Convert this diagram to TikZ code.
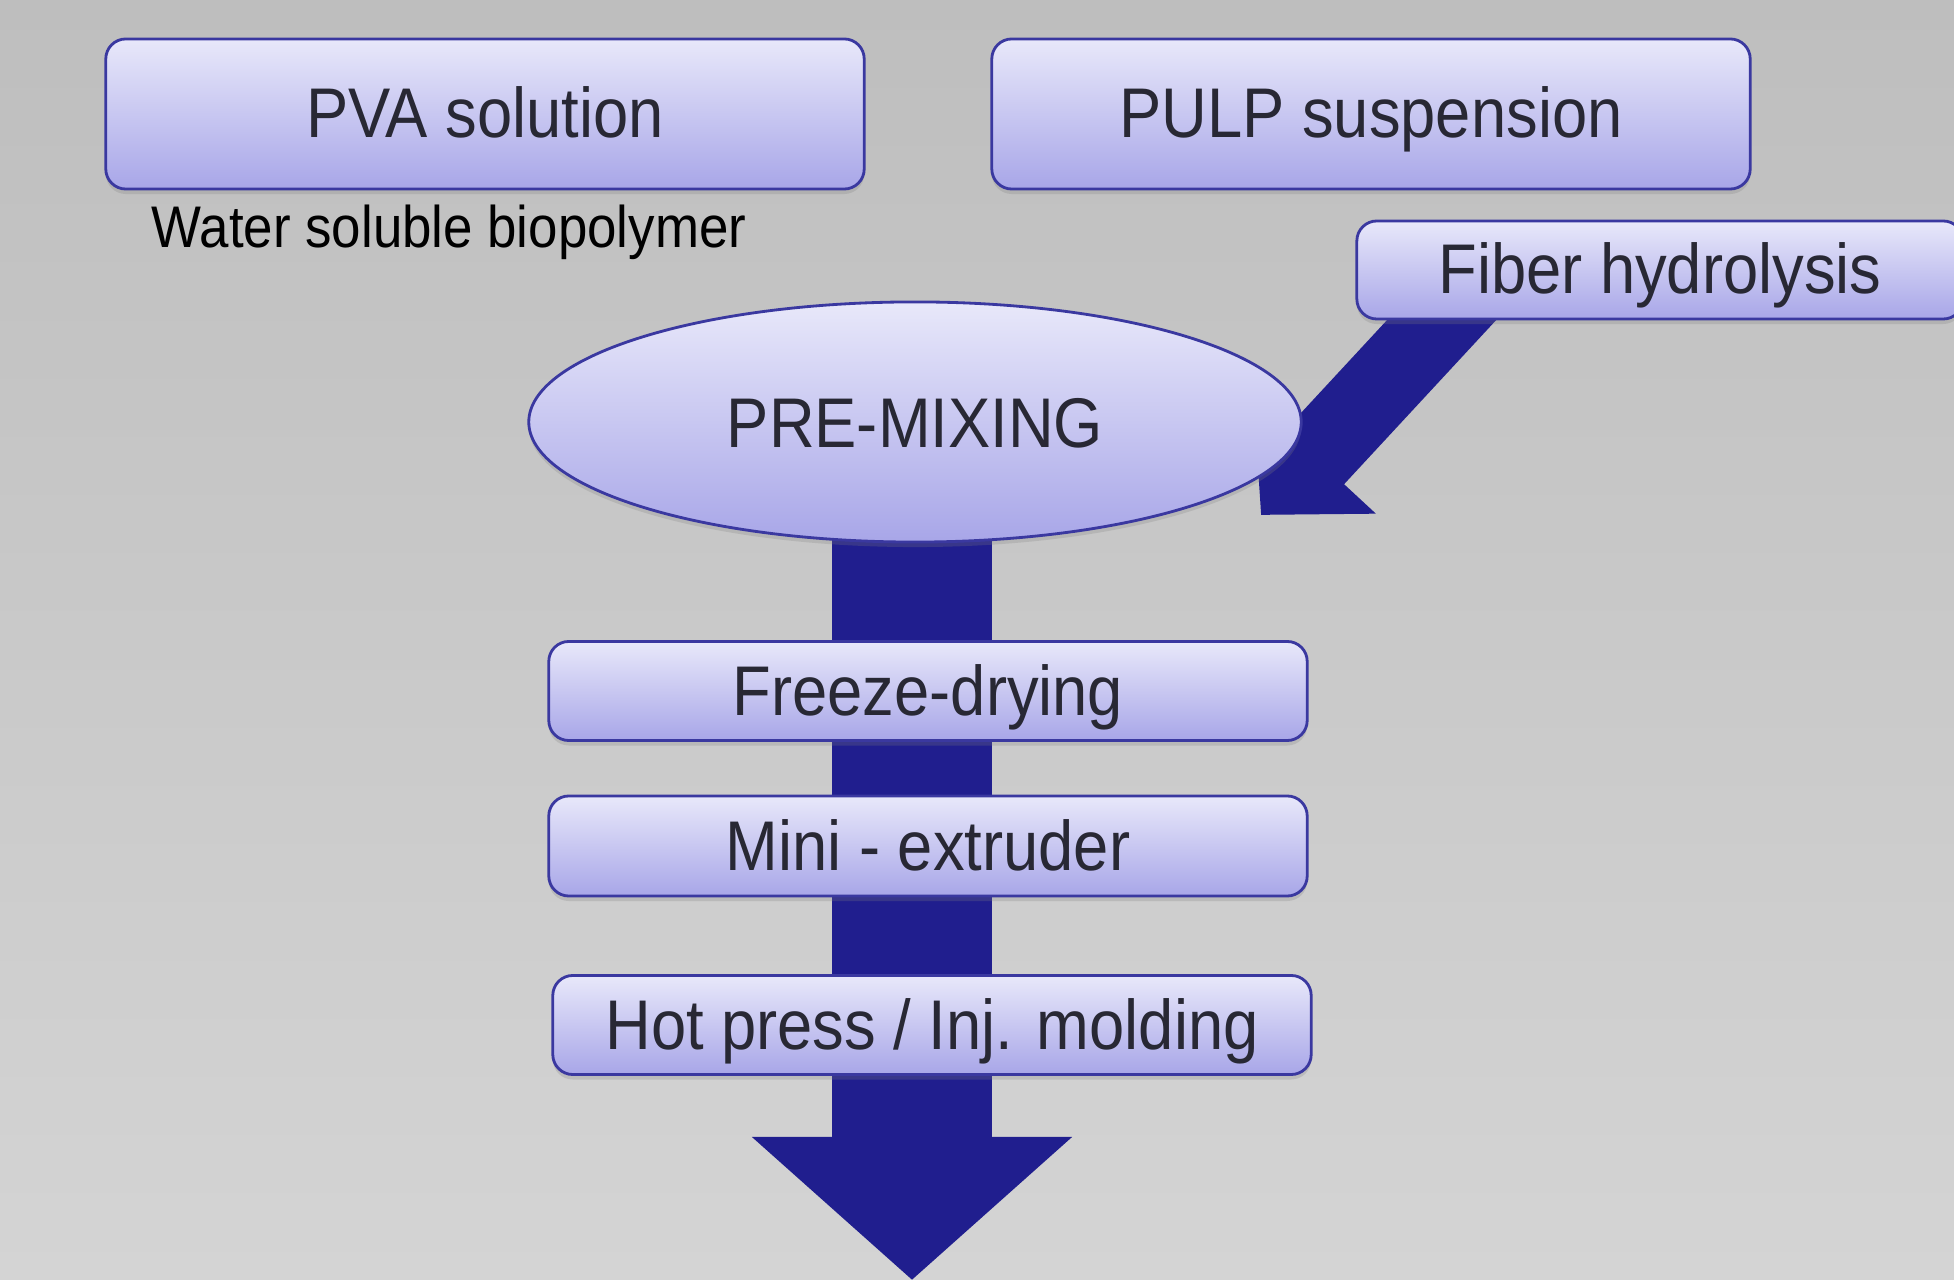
\documentclass[tikz,border=0pt]{standalone}
\usepackage{fontspec}
\setmainfont{Liberation Sans}[FakeStretch=0.9]
\usepackage{tikz}
\usetikzlibrary{positioning}
\usetikzlibrary{shapes.geometric, arrows.meta, shadows, backgrounds}
\definecolor{boxtop}{RGB}{232,232,250}
\definecolor{boxbottom}{RGB}{168,166,232}
\definecolor{boxedge}{RGB}{58,56,160}
\definecolor{flowblue}{RGB}{32,30,142}
\definecolor{labelgray}{RGB}{40,40,52}
\definecolor{bgtop}{RGB}{190,190,190}
\definecolor{bgbottom}{RGB}{212,212,212}
\tikzstyle{stage} = [rectangle, rounded corners=0.2cm, minimum width=7.58cm, inner sep=0pt, text height=0.5cm, text depth=0.02cm, draw=boxedge, line width=0.8pt, top color=boxtop, bottom color=boxbottom, text=labelgray, font=\fontsize{20}{24}\selectfont, drop shadow={shadow xshift=0pt, shadow yshift=-0.05cm, opacity=0.25}]
\tikzstyle{mixer} = [ellipse, minimum width=7.72cm, minimum height=2.4cm, inner sep=0pt, text height=0.5cm, text depth=0cm, draw=boxedge, line width=0.8pt, top color=boxtop, bottom color=boxbottom, text=labelgray, font=\fontsize{20}{24}\selectfont, drop shadow={shadow xshift=0pt, shadow yshift=-0.05cm, opacity=0.25}]
\tikzstyle{flow} = [draw=flowblue, line cap=butt]

\begin{document}
\begin{tikzpicture}[x=0.01cm, y=-0.01cm]
\useasboundingbox (0,0) rectangle (1954,1280);
\clip (0,0) rectangle (1954,1280);
% inputs
\node (pva) at (485,114) [stage, minimum height=1.5cm] {PVA solution};
\node (pulp) at (1371,114) [stage, minimum height=1.5cm] {PULP suspension};
\node (pvanote) at (449,232) [font=\fontsize{16.7}{20}\selectfont] {Water soluble biopolymer};
\node (fiber) at (1660,270) [stage, minimum width=6.06cm, minimum height=0.98cm] {Fiber hydrolysis};
% process chain
\node (mix) at (915,422) [mixer] {PRE-MIXING};
\node (freeze) at (928,691) [stage, minimum height=0.99cm] {Freeze-drying};
\node (extruder) at (928,846) [stage, minimum height=1cm] {Mini - extruder};
\node (press) at (932,1025) [stage, minimum height=0.99cm] {Hot press / Inj. molding};
\coordinate (fibstart) at (1488,270);
\coordinate (fibtip) at (1261,515);
\coordinate (endtip) at (912,1280);
\begin{pgfonlayer}{background}
\fill[top color=bgtop, bottom color=bgbottom] (0,0) rectangle (1954,1280);
\draw[flow, line width=0.8cm, -{Triangle[length=0.79cm, width=1.62cm]}] (fibstart) -- (fibtip);
\draw[flow, line width=1.59cm, -{Triangle[length=1.43cm, width=3.12cm]}] (mix.center -| endtip) -- (endtip);
\end{pgfonlayer}
\end{tikzpicture}
\end{document}
